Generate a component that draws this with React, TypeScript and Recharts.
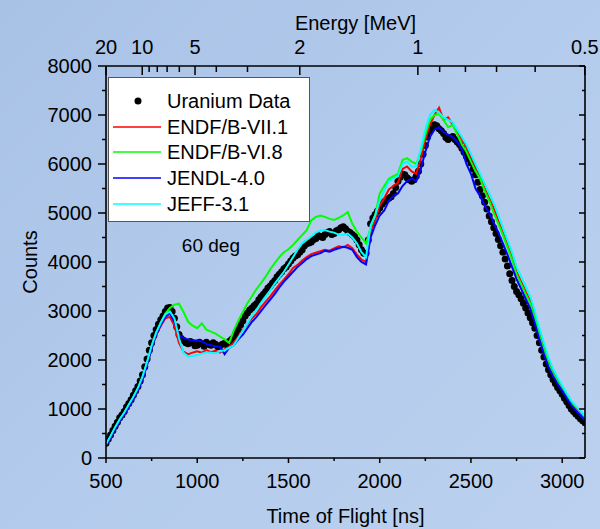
import React from "react";
import { ComposedChart, Line, Scatter, XAxis, YAxis, Legend, ReferenceDot, Label } from "recharts";

const FONT = "'Liberation Sans', Arial, sans-serif";

// time of flight grid for the evaluated-library curves (ns)
const tof = [
  500, 525, 550, 575, 600, 625, 650, 675, 700, 725,
  750, 775, 800, 825, 850, 875, 900, 925, 950, 975,
  1000, 1025, 1050, 1075, 1100, 1125, 1150, 1175, 1200, 1225,
  1250, 1275, 1300, 1325, 1350, 1375, 1400, 1425, 1450, 1475,
  1500, 1525, 1550, 1575, 1600, 1625, 1650, 1675, 1700, 1725,
  1750, 1775, 1800, 1825, 1850, 1875, 1900, 1925, 1950, 1975,
  2000, 2025, 2050, 2075, 2100, 2125, 2150, 2175, 2200, 2225,
  2250, 2275, 2300, 2325, 2350, 2375, 2400, 2425, 2450, 2475,
  2500, 2525, 2550, 2575, 2600, 2625, 2650, 2675, 2700, 2725,
  2750, 2775, 2800, 2825, 2850, 2875, 2900, 2925, 2950, 2975,
  3000, 3025, 3050, 3075, 3100, 3125,
];

const endfB71 = [
  260, 430, 600, 770, 900, 1060, 1220, 1400, 1620, 1920,
  2240, 2510, 2700, 2850, 2880, 2700, 2350, 2170, 2120, 2150,
  2180, 2150, 2200, 2160, 2190, 2150, 2220, 2270, 2350, 2480,
  2620, 2730, 2850, 2940, 3080, 3190, 3300, 3420, 3540, 3640,
  3750, 3880, 3940, 4030, 4100, 4160, 4190, 4220, 4250, 4230,
  4280, 4320, 4300, 4350, 4280, 4150, 4050, 4000, 4580, 4850,
  5150, 5300, 5480, 5550, 5620, 5900, 5950, 5850, 5800, 6100,
  6500, 6800, 7000, 7150, 6900, 6950, 6800, 6650, 6500, 6350,
  6150, 5950, 5750, 5500, 5300, 5100, 4850, 4600, 4350, 4100,
  3800, 3600, 3400, 3200, 2900, 2550, 2250, 1950, 1750, 1580,
  1420, 1260, 1120, 1010, 900, 790,
];

const endfB68 = [
  270, 440, 620, 780, 920, 1080, 1240, 1420, 1650, 1950,
  2280, 2560, 2760, 2950, 3060, 3130, 3150, 2980, 2780, 2700,
  2650, 2750, 2620, 2580, 2540, 2480, 2420, 2350, 2600, 2800,
  2980, 3160, 3300, 3450, 3570, 3700, 3850, 3980, 4100, 4200,
  4260, 4350, 4450, 4550, 4650, 4850, 4920, 4950, 4920, 4880,
  4860, 4900, 4950, 5020, 4780, 4620, 4500, 4380, 4700, 4950,
  5400, 5550, 5700, 5750, 5800, 6080, 6120, 6050, 6000, 6250,
  6600, 6900, 7000, 7020, 6900, 6750, 6800, 6600, 6400, 6250,
  6050, 5850, 5700, 5450, 5250, 5000, 4780, 4550, 4300, 4050,
  3750, 3550, 3350, 3150, 2850, 2500, 2200, 1920, 1720, 1550,
  1400, 1240, 1100, 990, 880, 780,
];

const jendl40 = [
  250, 410, 590, 750, 890, 1040, 1200, 1380, 1600, 1900,
  2230, 2520, 2720, 2880, 2950, 2780, 2500, 2450, 2420, 2400,
  2400, 2380, 2330, 2300, 2280, 2270, 2120, 2250, 2300, 2420,
  2520, 2650, 2780, 2880, 3000, 3120, 3230, 3350, 3480, 3600,
  3700, 3800, 3900, 3980, 4060, 4120, 4150, 4180, 4230, 4210,
  4250, 4280, 4310, 4290, 4250, 4100, 4000, 3950, 4500, 4750,
  4950, 5050, 5250, 5350, 5400, 5550, 5650, 5700, 5650, 5900,
  6250, 6550, 6700, 6750, 6650, 6600, 6550, 6450, 6300, 6000,
  5800, 5500, 5350, 5150, 5000, 4800, 4600, 4380, 4150, 3900,
  3650, 3450, 3250, 3050, 2750, 2420, 2120, 1860, 1670, 1510,
  1370, 1220, 1080, 970, 870, 770,
];

const jeff31 = [
  280, 450, 630, 790, 930, 1090, 1250, 1430, 1660, 1960,
  2290, 2560, 2760, 2930, 2990, 2850, 2450, 2150, 2070, 2080,
  2100, 2130, 2160, 2150, 2140, 2180, 2200, 2250, 2300, 2450,
  2600, 2750, 2900, 3030, 3170, 3300, 3420, 3560, 3680, 3800,
  3950, 4100, 4250, 4380, 4450, 4520, 4600, 4640, 4650, 4620,
  4600, 4560, 4550, 4580, 4500, 4380, 4200, 4100, 4750, 4950,
  5250, 5450, 5650, 5700, 5750, 6000, 6050, 5950, 5950, 6300,
  6700, 7000, 7100, 7050, 6950, 6900, 6850, 6700, 6550, 6400,
  6200, 6000, 5800, 5600, 5400, 5200, 4950, 4700, 4450, 4200,
  3900, 3700, 3500, 3300, 3000, 2650, 2350, 2050, 1820, 1640,
  1480, 1320, 1170, 1060, 960, 850,
];

// measured data, finer TOF bins (ns)
const dataTof = [
  500, 512.5, 525, 537.5, 550, 562.5, 575, 587.5, 600, 612.5,
  625, 637.5, 650, 662.5, 675, 687.5, 700, 712.5, 725, 737.5,
  750, 762.5, 775, 787.5, 800, 812.5, 825, 837.5, 850, 862.5,
  875, 887.5, 900, 912.5, 925, 937.5, 950, 962.5, 975, 987.5,
  1000, 1012.5, 1025, 1037.5, 1050, 1062.5, 1075, 1087.5, 1100, 1112.5,
  1125, 1137.5, 1150, 1162.5, 1175, 1187.5, 1200, 1212.5, 1225, 1237.5,
  1250, 1262.5, 1275, 1287.5, 1300, 1312.5, 1325, 1337.5, 1350, 1362.5,
  1375, 1387.5, 1400, 1412.5, 1425, 1437.5, 1450, 1462.5, 1475, 1487.5,
  1500, 1512.5, 1525, 1537.5, 1550, 1562.5, 1575, 1587.5, 1600, 1612.5,
  1625, 1637.5, 1650, 1662.5, 1675, 1687.5, 1700, 1712.5, 1725, 1737.5,
  1750, 1762.5, 1775, 1787.5, 1800, 1812.5, 1825, 1837.5, 1850, 1862.5,
  1875, 1887.5, 1900, 1912.5, 1925, 1937.5, 1950, 1962.5, 1975, 1987.5,
  2000, 2012.5, 2025, 2037.5, 2050, 2062.5, 2075, 2087.5, 2100, 2112.5,
  2125, 2137.5, 2150, 2162.5, 2175, 2187.5, 2200, 2212.5, 2225, 2237.5,
  2250, 2262.5, 2275, 2287.5, 2300, 2312.5, 2325, 2337.5, 2350, 2362.5,
  2375, 2387.5, 2400, 2412.5, 2425, 2437.5, 2450, 2462.5, 2475, 2487.5,
  2500, 2512.5, 2525, 2537.5, 2550, 2562.5, 2575, 2587.5, 2600, 2612.5,
  2625, 2637.5, 2650, 2662.5, 2675, 2687.5, 2700, 2712.5, 2725, 2737.5,
  2750, 2762.5, 2775, 2787.5, 2800, 2812.5, 2825, 2837.5, 2850, 2862.5,
  2875, 2887.5, 2900, 2912.5, 2925, 2937.5, 2950, 2962.5, 2975, 2987.5,
  3000, 3012.5, 3025, 3037.5, 3050, 3062.5, 3075, 3087.5, 3100, 3112.5,
  3125,
];

const uranium = [
  300, 390, 470, 560, 650, 730, 820, 880, 950, 1040,
  1110, 1190, 1280, 1370, 1460, 1570, 1700, 1860, 2020, 2200,
  2350, 2500, 2620, 2730, 2820, 2900, 2990, 3060, 3070, 2990,
  2850, 2680, 2520, 2440, 2400, 2350, 2330, 2380, 2350, 2290,
  2300, 2360, 2330, 2280, 2360, 2320, 2300, 2350, 2320, 2270,
  2290, 2320, 2340, 2310, 2380, 2420, 2460, 2540, 2620, 2720,
  2800, 2900, 2960, 3020, 3060, 3110, 3150, 3230, 3290, 3340,
  3400, 3470, 3510, 3570, 3620, 3700, 3750, 3800, 3860, 3900,
  3960, 4020, 4080, 4120, 4150, 4200, 4250, 4330, 4380, 4390,
  4410, 4460, 4480, 4540, 4520, 4500, 4560, 4600, 4620, 4560,
  4580, 4640, 4660, 4700, 4720, 4680, 4630, 4600, 4560, 4520,
  4450, 4350, 4250, 4180, 4180, 4450, 4780, 4900, 4970, 5040,
  5100, 5180, 5230, 5270, 5300, 5330, 5400, 5520, 5650, 5730,
  5790, 5780, 5720, 5680, 5650, 5680, 5750, 5850, 6000, 6200,
  6380, 6550, 6680, 6760, 6800, 6780, 6720, 6680, 6620, 6540,
  6500, 6540, 6560, 6500, 6450, 6400, 6320, 6240, 6160, 6100,
  6020, 5900, 5780, 5630, 5480, 5350, 5220, 5080, 4940, 4820,
  4700, 4580, 4460, 4330, 4200, 4060, 3920, 3760, 3620, 3500,
  3400, 3330, 3250, 3160, 3060, 2960, 2860, 2760, 2650, 2500,
  2350, 2200, 2060, 1920, 1800, 1700, 1600, 1520, 1440, 1370,
  1300, 1220, 1150, 1070, 1000, 950, 900, 850, 800, 760,
  720,
];

const countTicks = [0, 500, 1000, 1500, 2000, 2500, 3000, 3500, 4000, 4500, 5000, 5500, 6000, 6500, 7000, 7500, 8000];
const tofTicks = [500, 750, 1000, 1250, 1500, 1750, 2000, 2250, 2500, 2750, 3000];
const energyTicks = [20, 10, 9, 8, 7, 6, 5, 4, 3, 2, 1, 0.9, 0.8, 0.7, 0.6, 0.5];
const energyLabels = [20, 10, 5, 2, 1, 0.5];
const legendOrder = ["Uranium Data", "ENDF/B-VII.1", "ENDF/B-VI.8", "JENDL-4.0", "JEFF-3.1"];

const TOF_MIN = 500;
const TOF_MAX = 3125;
// flight time of a 1 MeV neutron over this path, ns (t ~ 1/sqrt(E))
const T_1MEV = 2209;
const energyToTof = (e: number) => Math.min(TOF_MAX, Math.max(TOF_MIN, T_1MEV / Math.sqrt(e)));

const rows = tof.map((t, i) => ({
  t,
  b71: endfB71[i],
  b68: endfB68[i],
  jendl: jendl40[i],
  jeff: jeff31[i],
}));
const dataRows = dataTof.map((t, i) => ({ t, counts: uranium[i] }));

const AXIS = "#000";
const textProps = { fontFamily: FONT, fontSize: 20, fill: "#000" };

const LeftTick = ({ x, y, payload }: any) => {
  const major = payload.value % 1000 === 0;
  return (
    <g>
      <line x1={x - (major ? 8 : 4)} x2={x} y1={y} y2={y} stroke={AXIS} strokeWidth={1.5} />
      {major && (
        <text x={x - 14} y={y + 7} textAnchor="end" {...textProps}>
          {payload.value}
        </text>
      )}
    </g>
  );
};

const RightTick = ({ x, y, payload }: any) => {
  const major = payload.value % 1000 === 0;
  return <line x1={x - (major ? 6 : 3)} x2={x} y1={y} y2={y} stroke={AXIS} strokeWidth={1.5} />;
};

const BottomTick = ({ x, y, payload }: any) => {
  const major = payload.value % 500 === 0;
  return (
    <g>
      <line x1={x} x2={x} y1={y} y2={y + (major ? 5 : 3)} stroke={AXIS} strokeWidth={1.5} />
      {major && (
        <text x={x} y={y + 30} textAnchor="middle" {...textProps}>
          {payload.value}
        </text>
      )}
    </g>
  );
};

const TopTick = ({ x, y, index }: any) => {
  const e = energyTicks[index];
  const major = energyLabels.includes(e);
  return (
    <g>
      <line x1={x} x2={x} y1={y} y2={y + (major ? 9 : 6)} stroke={AXIS} strokeWidth={1.5} />
      {major && (
        <text x={x} y={y - 12} textAnchor="middle" {...textProps}>
          {e}
        </text>
      )}
    </g>
  );
};

const LegendBox = ({ payload }: any) => {
  const items = [...(payload || [])].sort(
    (a: any, b: any) => legendOrder.indexOf(a.value) - legendOrder.indexOf(b.value)
  );
  return (
    <div
      style={{
        width: 202,
        height: 145,
        background: "#fff",
        border: "1px solid #555",
        boxSizing: "border-box",
        fontFamily: FONT,
        fontSize: 20,
        color: "#000",
        paddingTop: 10,
      }}
    >
      {items.map((entry: any) => (
        <div key={entry.value} style={{ display: "flex", alignItems: "center", height: 25.7 }}>
          <svg width={58} height={10} style={{ flex: "none" }}>
            {entry.type === "circle" ? (
              <circle cx={29} cy={5} r={3.5} fill="#000" />
            ) : (
              <line x1={4} x2={52} y1={5} y2={5} stroke={entry.color} strokeWidth={1.5} />
            )}
          </svg>
          <span style={{ lineHeight: 1 }}>{entry.value}</span>
        </div>
      ))}
    </div>
  );
};

const DataDot = (p: any) => <circle cx={p.cx} cy={p.cy} r={3.5} fill="#000" />;

export default function App() {
  return (
    <div
      style={{
        position: "absolute",
        left: 0,
        top: 0,
        width: 600,
        height: 529,
        background: "linear-gradient(135deg, #a8c2e6 0%, #b3cbec 50%, #bcd1ef 100%)",
      }}
    >
      <ComposedChart width={600} height={529} data={rows} margin={{ top: 0, right: 0, bottom: 0, left: 0 }}>
        <XAxis
          dataKey="t"
          type="number"
          domain={[TOF_MIN, TOF_MAX]}
          allowDataOverflow
          ticks={tofTicks}
          interval={0}
          height={71}
          tickSize={0}
          tickMargin={0}
          tick={<BottomTick />}
          axisLine={{ stroke: AXIS, strokeWidth: 1.6 }}
        >
          <Label
            content={({ viewBox }: any) => (
              <text x={viewBox.x + viewBox.width / 2} y={523} textAnchor="middle" {...textProps}>
                Time of Flight [ns]
              </text>
            )}
          />
        </XAxis>
        <XAxis
          xAxisId="top"
          dataKey="t"
          orientation="top"
          type="number"
          domain={[TOF_MIN, TOF_MAX]}
          allowDataOverflow
          ticks={energyTicks.map(energyToTof)}
          interval={0}
          height={66}
          tickSize={0}
          tickMargin={0}
          tick={<TopTick />}
          axisLine={{ stroke: AXIS, strokeWidth: 1.6 }}
        >
          <Label
            content={({ viewBox }: any) => (
              <text x={viewBox.x + viewBox.width / 2 + 10} y={30} textAnchor="middle" {...textProps}>
                Energy [MeV]
              </text>
            )}
          />
        </XAxis>
        <YAxis
          type="number"
          domain={[0, 8000]}
          allowDataOverflow
          ticks={countTicks}
          interval={0}
          width={106}
          tickSize={0}
          tickMargin={0}
          tick={<LeftTick />}
          axisLine={{ stroke: AXIS, strokeWidth: 1.6 }}
        >
          <Label
            content={({ viewBox }: any) => {
              const cy = viewBox.y + viewBox.height / 2;
              return (
                <text x={30} y={cy} transform={`rotate(-90 30 ${cy})`} textAnchor="middle" dominantBaseline="central" {...textProps}>
                  Counts
                </text>
              );
            }}
          />
        </YAxis>
        <YAxis
          yAxisId="right"
          orientation="right"
          type="number"
          domain={[0, 8000]}
          allowDataOverflow
          ticks={countTicks}
          interval={0}
          width={15}
          tickSize={0}
          tickMargin={0}
          tick={<RightTick />}
          axisLine={{ stroke: AXIS, strokeWidth: 1.6 }}
        />
        <Legend
          layout="vertical"
          align="center"
          verticalAlign="middle"
          content={<LegendBox />}
          wrapperStyle={{ left: 108, top: 77, width: 202, height: 145 }}
        />
        <Scatter
          name="Uranium Data"
          data={dataRows}
          dataKey="counts"
          fill="#000"
          shape={<DataDot />}
          legendType="circle"
          zIndex={350}
          isAnimationActive={false}
        />
        <Line name="ENDF/B-VII.1" dataKey="b71" type="linear" stroke="#ff0000" strokeWidth={2} dot={false} isAnimationActive={false} />
        <Line name="ENDF/B-VI.8" dataKey="b68" type="linear" stroke="#00ff00" strokeWidth={2} dot={false} isAnimationActive={false} />
        <Line name="JENDL-4.0" dataKey="jendl" type="linear" stroke="#0000ff" strokeWidth={2} dot={false} isAnimationActive={false} />
        <Line name="JEFF-3.1" dataKey="jeff" type="linear" stroke="#00ffff" strokeWidth={2} dot={false} isAnimationActive={false} />
        <ReferenceDot
          x={1075}
          y={4350}
          r={0}
          fill="none"
          stroke="none"
          label={{ value: "60 deg", position: "center", fontFamily: FONT, fontSize: 19, fill: "#000" }}
        />
      </ComposedChart>
    </div>
  );
}
